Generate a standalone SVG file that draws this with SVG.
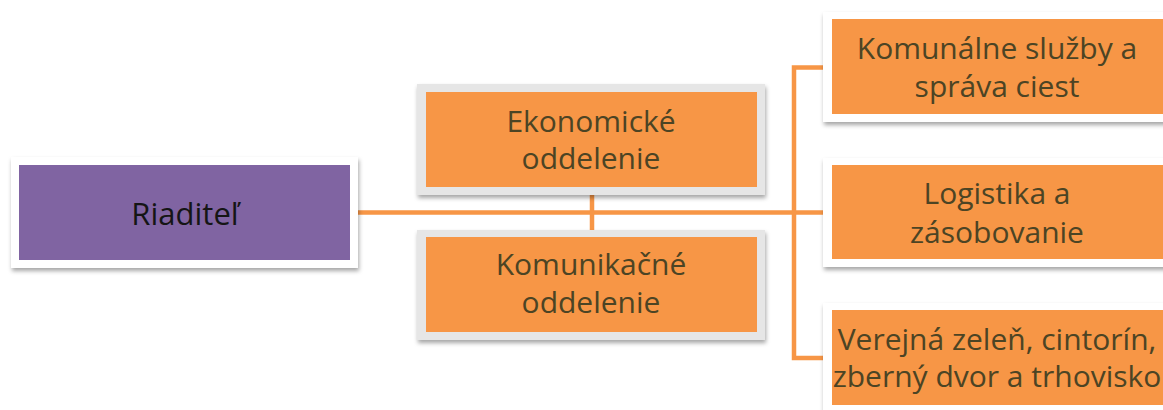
<svg xmlns="http://www.w3.org/2000/svg" width="1163" height="410" viewBox="0 0 1163 410">
<defs>
<filter id="sh" x="-10%" y="-10%" width="120%" height="130%">
<feDropShadow dx="1" dy="3" stdDeviation="2" flood-color="#000" flood-opacity="0.35"/>
</filter>
</defs>
<style>
.frame{fill:#ffffff;filter:url(#sh)}
.gframe{fill:#e6e6e6;filter:url(#sh)}
.org{fill:#f79646}
.pur{fill:#8064a2}
.t{font-family:"Open Sans","Noto Sans",sans-serif;font-size:30px;text-anchor:middle;fill:#4c4424}
.tb{font-family:"Open Sans","Noto Sans",sans-serif;font-size:31px;text-anchor:middle;fill:#151515}
.c{stroke:#f79646;stroke-width:4.5;fill:none}
</style>
<rect width="1163" height="410" fill="#ffffff"/>
<g id="connectors">
<line class="c" x1="358" y1="212.5" x2="826" y2="212.5"/>
<line class="c" x1="592" y1="194" x2="592" y2="231"/>
<polyline class="c" points="826,67.5 794,67.5 794,358 826,358"/>
</g>
<g id="riaditel">
<rect class="frame" x="11" y="157" width="347" height="111"/>
<rect class="pur" x="19" y="165" width="331" height="95"/>
<text class="tb" x="185" y="225">Riaditeľ</text>
</g>
<g id="ekonomicke">
<rect class="gframe" x="417" y="84" width="348" height="111"/>
<rect class="org" x="426" y="92" width="331" height="95"/>
<text class="t" x="591" y="132">Ekonomické</text>
<text class="t" x="591" y="169">oddelenie</text>
</g>
<g id="komunikacne">
<rect class="gframe" x="417" y="230" width="348" height="110"/>
<rect class="org" x="426" y="237" width="331" height="95"/>
<text class="t" x="591" y="275">Komunikačné</text>
<text class="t" x="591" y="313">oddelenie</text>
</g>
<g id="komunalne">
<rect class="frame" x="823" y="12" width="350" height="110"/>
<rect class="org" x="832" y="19" width="331" height="95"/>
<text class="t" x="997" y="59">Komunálne služby a</text>
<text class="t" x="997" y="97">správa ciest</text>
</g>
<g id="logistika">
<rect class="frame" x="823" y="158" width="350" height="109"/>
<rect class="org" x="832" y="165" width="331" height="94"/>
<text class="t" x="997" y="204">Logistika a</text>
<text class="t" x="997" y="243">zásobovanie</text>
</g>
<g id="verejna">
<rect class="frame" x="823" y="303" width="350" height="112"/>
<rect class="org" x="832" y="310" width="331" height="95"/>
<text class="t" x="997" y="350">Verejná zeleň, cintorín,</text>
<text class="t" x="997" y="387">zberný dvor a trhovisko</text>
</g>
</svg>
